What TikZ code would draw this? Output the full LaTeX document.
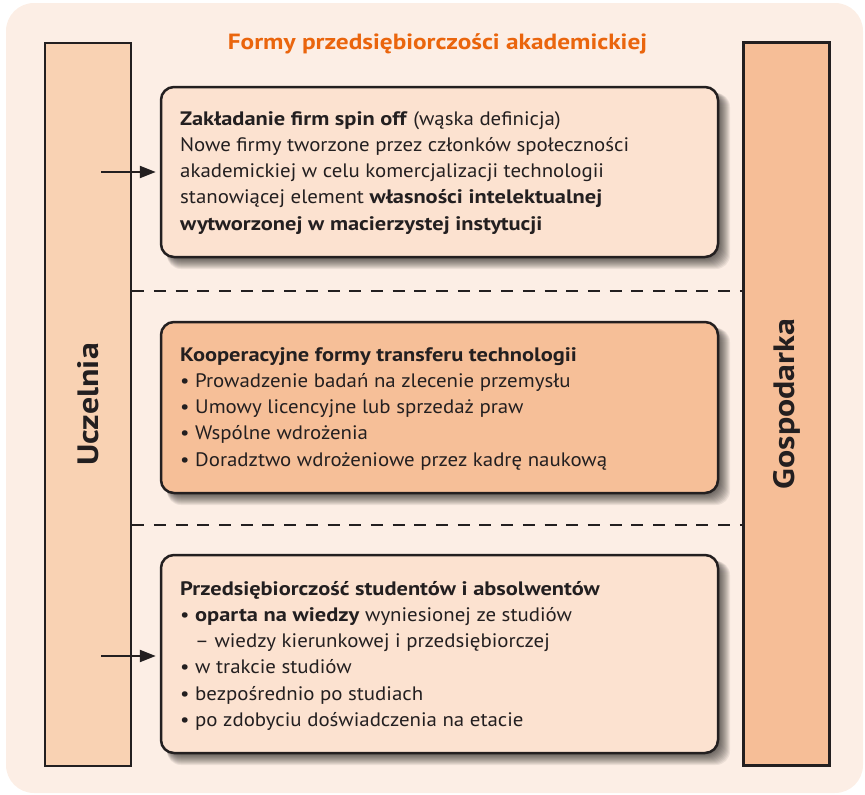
\documentclass[tikz,border=0pt]{standalone}
\usepackage{fontspec}
\setmainfont{PT Sans}[FakeStretch=1.07, BoldFeatures={FakeStretch=1.15}]
\usetikzlibrary{arrows.meta}

\definecolor{pagebg}{HTML}{FCEEE5}
\definecolor{barlight}{HTML}{F9D2B3}
\definecolor{bardark}{HTML}{F6BE97}
\definecolor{boxlight}{HTML}{FCE2D0}
\definecolor{boxdark}{HTML}{F6BF98}
\definecolor{ink}{HTML}{231F20}
\definecolor{titleorange}{HTML}{EA650D}

% left-aligned block of lines whose baseline is the first line
\newcommand\textlines[1]{\begin{tabular}[t]{@{}l@{}}#1\end{tabular}}
\newcommand\bul{\makebox[15pt][l]{•}}

\tikzset{
  sidebar/.style={draw=ink, line width=2.5pt, minimum width=86pt, minimum height=723pt, inner sep=0pt},
  sidelabel/.style={rotate=90, text=ink, font=\bfseries\fontsize{29.5}{32}\selectfont},
  formbox/.style={draw=ink, line width=2.5pt, rounded corners=13pt, minimum width=557pt, inner sep=0pt},
  boxtext/.style={anchor=base west, inner sep=0pt, text=ink, font=\fontsize{19.5}{26.3}\selectfont},
  divider/.style={draw=ink, line width=2.3pt, dash pattern=on 12pt off 9.7pt},
  feed/.style={draw=ink, line width=2.2pt, -{Triangle[length=16pt, width=12pt]}},
}

% soft shadow below and to the right of a rounded box
\newcommand\softshadow[4]{%
  \foreach \k in {-5,...,6}{
    \fill[black, opacity=0.065, rounded corners=14pt] (#1+6, #2+6) rectangle (#3+6+\k, #4+6+\k);
  }%
}

\begin{document}
\begin{tikzpicture}[x=1pt, y=-1pt]
  \useasboundingbox (0,0) rectangle (865,795);
  \fill[pagebg, rounded corners=28pt] (6,3) rectangle (863,793);

  % the two sides
  \node[sidebar, fill=barlight] (uczelnia) at (88,404.5) {};
  \node[sidelabel] at (uczelnia) {Uczelnia};
  \node[sidebar, fill=bardark] (gospodarka) at (786.5,404) {};
  \node[sidelabel] at (gospodarka) {Gospodarka};

  % heading
  \node[anchor=base, text=titleorange, font=\bfseries\fontsize{22}{24}\selectfont] (title) at (437.5,49.5) {Formy przedsiębiorczości akademickiej};

  % separators between the three forms
  \coordinate (d1) at (0,291);
  \coordinate (d2) at (0,525);
  \draw[divider] (uczelnia.east |- d1) -- (gospodarka.west |- d1);
  \draw[divider] (uczelnia.east |- d2) -- (gospodarka.west |- d2);

  % first form
  \softshadow{161}{87}{718}{257}
  \node[formbox, fill=boxlight, minimum height=170pt] (spinoff) at (439.5,172) {};
  \node[boxtext] at (180,125) {\textlines{%
    \textbf{Zakładanie firm spin off} (wąska definicja)\\
    Nowe firmy tworzone przez członków społeczności\\
    akademickiej w celu komercjalizacji technologii\\
    stanowiącej element \textbf{własności intelektualnej}\\
    \textbf{wytworzonej w macierzystej instytucji}}};

  % second form
  \softshadow{161}{322}{718}{493}
  \node[formbox, fill=boxdark, minimum height=171pt] (transfer) at (439.5,407.5) {};
  \node[boxtext] at (180,361) {\textlines{%
    \textbf{Kooperacyjne formy transferu technologii}\\
    \bul Prowadzenie badań na zlecenie przemysłu\\
    \bul Umowy licencyjne lub sprzedaż praw\\
    \bul Wspólne wdrożenia\\
    \bul Doradztwo wdrożeniowe przez kadrę naukową}};

  % third form
  \softshadow{161}{555}{718}{753}
  \node[formbox, fill=boxlight, minimum height=198pt] (studenci) at (439.5,654) {};
  \node[boxtext] at (180,595) {\textlines{%
    \textbf{Przedsiębiorczość studentów i absolwentów}\\
    \bul\textbf{oparta na wiedzy} wyniesionej ze studiów\\
    \hspace*{15pt}– wiedzy kierunkowej i przedsiębiorczej\\
    \bul w trakcie studiów\\
    \bul bezpośrednio po studiach\\
    \bul po zdobyciu doświadczenia na etacie}};

  % arrows from the university into the boxes
  \coordinate (f1) at (101,172);
  \coordinate (f2) at (101,656);
  \draw[feed, shorten >=4pt] (f1) -- (f1 -| spinoff.west);
  \draw[feed, shorten >=4pt] (f2) -- (f2 -| studenci.west);
\end{tikzpicture}
\end{document}
